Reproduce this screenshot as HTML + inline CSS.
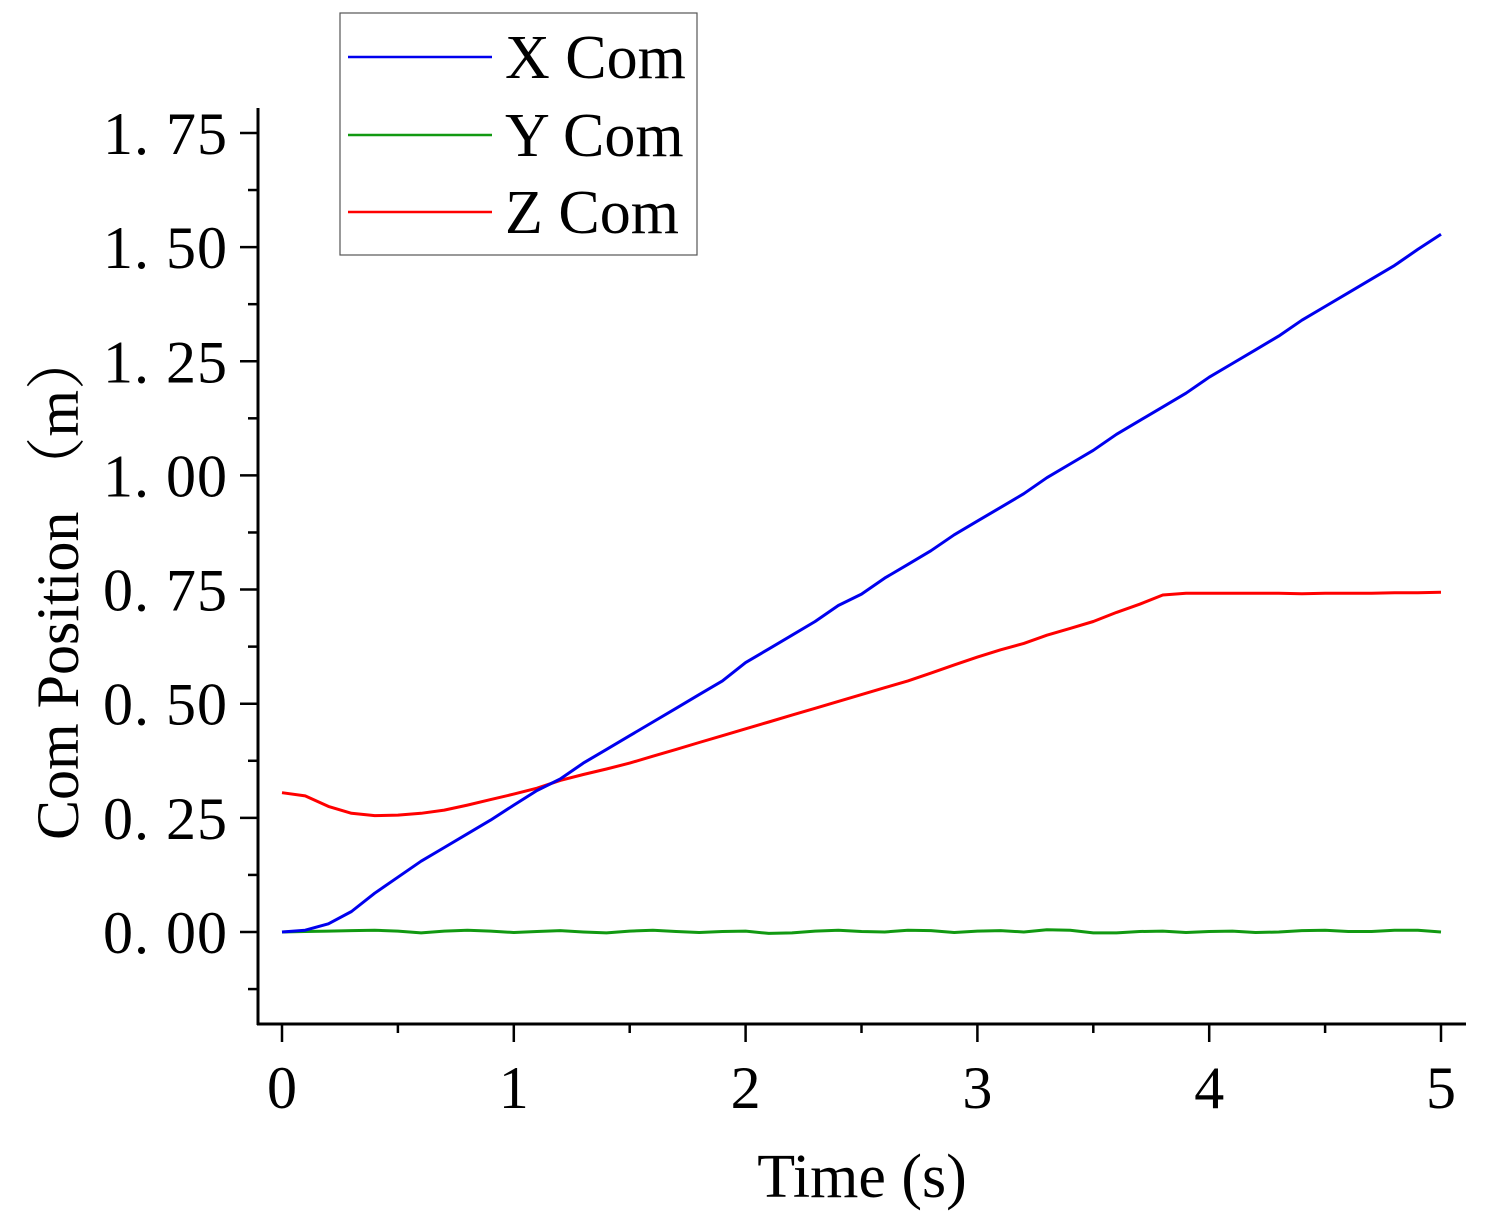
<!DOCTYPE html>
<html><head><meta charset="utf-8"><style>
html,body{margin:0;padding:0;background:#fff;}
svg{display:block;font-family:"Liberation Serif","Noto Serif CJK SC",serif;}
</style></head><body>
<svg id="chart" width="1498" height="1226">
<g id="axes"></g><g id="series"></g>
<g>
<rect x="340" y="13" width="357" height="242" fill="#fff" stroke="#555" stroke-width="1.2"/>
<line x1="348" y1="57" x2="492" y2="57" stroke="#0000ee" stroke-width="2.5"/>
<text x="505" y="78" font-size="62">X Com</text>
<line x1="348" y1="135" x2="492" y2="135" stroke="#119911" stroke-width="2.5"/>
<text x="505" y="156" font-size="62">Y Com</text>
<line x1="348" y1="212" x2="492" y2="212" stroke="#ff0000" stroke-width="2.5"/>
<text x="505" y="233" font-size="62">Z Com</text>
</g>
<text x="862" y="1197" font-size="62" text-anchor="middle">Time (s)</text>
<text transform="translate(78,585) rotate(-90)" font-size="60" text-anchor="middle">Com Position （m）</text>
</svg>
<script>
const times = [0,0.1,0.2,0.3,0.4,0.5,0.6,0.7,0.8,0.9,1,1.1,1.2,1.3,1.4,1.5,1.6,1.7,1.8,1.9,2,2.1,2.2,2.3,2.4,2.5,2.6,2.7,2.8,2.9,3,3.1,3.2,3.3,3.4,3.5,3.6,3.7,3.8,3.9,4,4.1,4.2,4.3,4.4,4.5,4.6,4.7,4.8,4.9,5];
const xCom = [0,0.004,0.018,0.045,0.085,0.12,0.155,0.185,0.215,0.245,0.278,0.31,0.335,0.37,0.4,0.43,0.46,0.49,0.52,0.55,0.59,0.62,0.65,0.68,0.715,0.74,0.775,0.805,0.835,0.87,0.9,0.93,0.96,0.995,1.025,1.055,1.09,1.12,1.15,1.18,1.215,1.245,1.275,1.305,1.34,1.37,1.4,1.43,1.46,1.495,1.528];
const yCom = [0,0.001,0.002,0.003,0.004,0.002,-0.002,0.002,0.004,0.002,-0.001,0.001,0.003,0,-0.002,0.002,0.004,0.001,-0.001,0.001,0.002,-0.003,-0.002,0.002,0.004,0.001,0,0.004,0.003,-0.001,0.002,0.003,0,0.005,0.004,-0.002,-0.002,0.001,0.002,-0.001,0.001,0.002,-0.001,0,0.003,0.004,0.001,0.001,0.004,0.004,0];
const zCom = [0.305,0.298,0.275,0.26,0.255,0.256,0.26,0.267,0.278,0.29,0.302,0.315,0.332,0.345,0.357,0.37,0.385,0.4,0.415,0.43,0.445,0.46,0.475,0.49,0.505,0.52,0.535,0.55,0.567,0.585,0.602,0.618,0.632,0.65,0.665,0.68,0.7,0.718,0.738,0.742,0.742,0.742,0.742,0.742,0.741,0.742,0.742,0.742,0.743,0.743,0.744];
const xTicks = [0,1,2,3,4,5];
const xTickLabels = ["0","1","2","3","4","5"];
const yTicks = [0,0.25,0.5,0.75,1,1.25,1.5,1.75];
const yTickLabels = ["0. 00","0. 25","0. 50","0. 75","1. 00","1. 25","1. 50","1. 75"];

const NS="http://www.w3.org/2000/svg";
const sx = v => 282 + v*231.8;
const sy = v => 932 - v*456.6;
function mk(tag, attrs, parent){const e=document.createElementNS(NS,tag);for(const k in attrs)e.setAttribute(k,attrs[k]);parent.appendChild(e);return e;}
const axes=document.getElementById('axes'), ser=document.getElementById('series');
let el=mk('line',{x1:258,y1:108,x2:258,y2:1025,stroke:'#000','stroke-width':3},axes);


el=mk('line',{x1:257,y1:1024,x2:1466,y2:1024,stroke:'#000','stroke-width':3},axes);


for(let v=-0.125; v<=1.8; v+=0.125){
  const maj=Math.abs(v/0.25-Math.round(v/0.25))<1e-6;
  el=mk('line',{x1:maj?240:248,x2:258,y1:sy(v),y2:sy(v),stroke:'#000','stroke-width':2.5},axes);
  
  
}
yTicks.forEach((v,i)=>{
  el=mk('text',{x:228,y:sy(v)+21,'font-size':60,'text-anchor':'end','letter-spacing':'1'},axes);
  el.textContent=yTickLabels[i];
  
  
});
for(let v=0; v<=5.001; v+=0.5){
  const maj=Math.abs(v-Math.round(v))<1e-6;
  el=mk('line',{x1:sx(v),x2:sx(v),y1:1024,y2:maj?1042:1033,stroke:'#000','stroke-width':2.5},axes);
  
  
}
xTicks.forEach((v,i)=>{
  el=mk('text',{x:sx(v),y:1108,'font-size':60,'text-anchor':'middle'},axes);
  el.textContent=xTickLabels[i];
  
  
});
function line(vals,color,name){
  const d=vals.map((v,i)=>(i?'L':'M')+sx(times[i]).toFixed(1)+','+sy(v).toFixed(1)).join(' ');
  const p=mk('path',{d:d,fill:'none',stroke:color,'stroke-width':3,'stroke-linejoin':'round'},ser);
  
  
}
line(yCom,'#119911','y-com-line');
line(zCom,'#ff0000','z-com-line');
line(xCom,'#0000ee','x-com-line');
</script>
</body></html>
